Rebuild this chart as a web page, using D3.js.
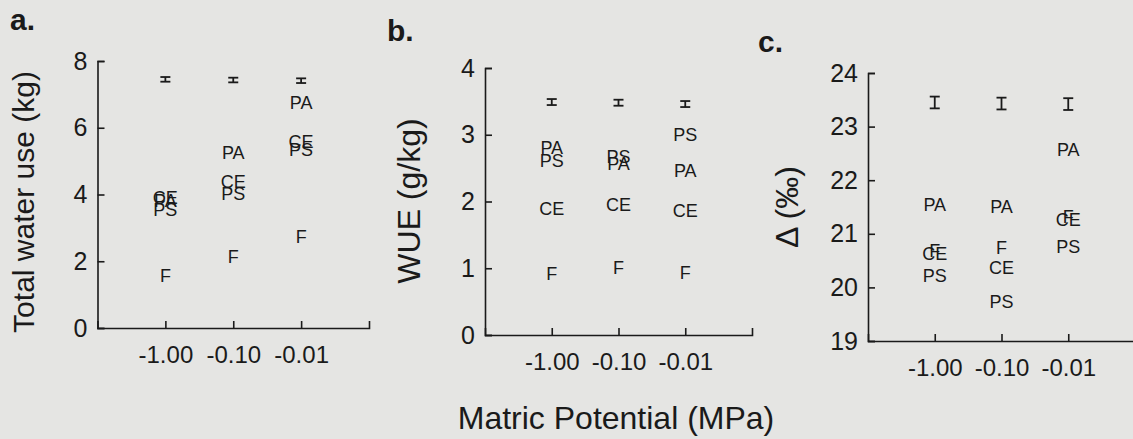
<!DOCTYPE html>
<html>
<head>
<meta charset="utf-8">
<script src="https://cdn.jsdelivr.net/npm/d3@7/dist/d3.min.js"></script>
<style>
  html, body { margin: 0; padding: 0; background: #e5e5e3; }
  svg { display: block; font-family: "Liberation Sans", Arial, sans-serif; }
</style>
</head>
<body>
<svg id="chart" width="1133" height="439"></svg>
<script>
// ---- data ----
const categories = ["-1.00", "-0.10", "-0.01"];   // matric potential (MPa)
const species = ["PA", "CE", "PS", "F"];

// panel a: total water use (kg)
const waterTicks = [0, 2, 4, 6, 8];
const waterPA = [3.82, 5.26, 6.76];
const waterCE = [3.91, 4.38, 5.60];
const waterPS = [3.54, 4.03, 5.36];
const waterF  = [1.56, 2.15, 2.74];
const waterErrMean = [7.45, 7.43, 7.41];
const waterErrHalf = [0.07, 0.07, 0.07];

// panel b: WUE (g/kg)
const wueTicks = [0, 1, 2, 3, 4];
const wuePA = [2.81, 2.57, 2.46];
const wueCE = [1.90, 1.96, 1.86];
const wuePS = [2.61, 2.68, 3.00];
const wueF  = [0.92, 1.01, 0.94];
const wueErrMean = [3.49, 3.48, 3.46];
const wueErrHalf = [0.045, 0.045, 0.045];

// panel c: carbon isotope discrimination (‰)
const deltaTicks = [19, 20, 21, 22, 23, 24];
const deltaPA = [21.54, 21.51, 22.58];
const deltaCE = [20.64, 20.37, 21.26];
const deltaPS = [20.23, 19.73, 20.76];
const deltaF  = [20.68, 20.74, 21.33];
const deltaErrMean = [23.45, 23.43, 23.42];
const deltaErrHalf = [0.11, 0.11, 0.11];

// ---- drawing ----
const svg = d3.select("#chart");
const ink = "#1a1a1a";

const panels = [
  { letter: "a.", title: "Total water use (kg)", ticks: waterTicks,
    series: { PA: waterPA, CE: waterCE, PS: waterPS, F: waterF },
    errMean: waterErrMean, errHalf: waterErrHalf,
    xr: [97.5, 369], yr: [328, 61], letterPos: [10, 30],
    titleX: 34, titleY: 202, titleSize: 30 },
  { letter: "b.", title: "WUE (g/kg)", ticks: wueTicks,
    series: { PA: wuePA, CE: wueCE, PS: wuePS, F: wueF },
    errMean: wueErrMean, errHalf: wueErrHalf,
    xr: [485, 752], yr: [335, 68], letterPos: [387, 41],
    titleX: 420, titleY: 201, titleSize: 32 },
  { letter: "c.", title: "\u0394 (\u2030)", ticks: deltaTicks,
    series: { PA: deltaPA, CE: deltaCE, PS: deltaPS, F: deltaF },
    errMean: deltaErrMean, errHalf: deltaErrHalf,
    xr: [868, 1135], yr: [341, 73], letterPos: [758, 52],
    titleX: 798, titleY: 207, titleSize: 32 }
];

panels.forEach(p => {
  const g = svg.append("g");
  const x = d3.scaleLinear().domain([0, categories.length + 1]).range(p.xr);
  const y = d3.scaleLinear().domain(d3.extent(p.ticks)).range(p.yr);

  // x axis (ticks inward)
  const xAxis = d3.axisBottom(x)
    .tickValues(categories.map((c, i) => i + 1))
    .tickFormat((d) => categories[d - 1])
    .tickSizeInner(-7).tickSizeOuter(-7).tickPadding(18);
  const gx = g.append("g").attr("transform", `translate(0,${p.yr[0]})`).call(xAxis);
  gx.selectAll("text").attr("font-size", 24).attr("fill", ink).attr("dy", "0.71em");

  // y axis (ticks inward)
  const yAxis = d3.axisLeft(y).tickValues(p.ticks)
    .tickSizeInner(-7).tickSizeOuter(-7).tickPadding(10).tickFormat(d3.format("d"));
  const gy = g.append("g").attr("transform", `translate(${p.xr[0]},0)`).call(yAxis);
  gy.selectAll("text").attr("font-size", 25).attr("fill", ink);

  g.selectAll(".domain, .tick line").attr("stroke", ink).attr("stroke-width", 1.6);

  // y-axis title
  g.append("text")
    .attr("transform", `translate(${p.titleX},${p.titleY}) rotate(-90)`)
    .attr("text-anchor", "middle")
    .attr("font-size", p.titleSize).attr("fill", ink)
    .text(p.title);

  // panel letter
  g.append("text").attr("x", p.letterPos[0]).attr("y", p.letterPos[1])
    .attr("font-size", 30).attr("font-weight", "bold").attr("fill", ink)
    .text(p.letter);

  // error bars
  const eb = g.append("g").attr("stroke", ink).attr("stroke-width", 1.8).attr("fill", "none");
  p.errMean.forEach((m, i) => {
    const cx = x(i + 1), top = y(m + p.errHalf[i]), bot = y(m - p.errHalf[i]);
    eb.append("line").attr("x1", cx).attr("x2", cx).attr("y1", top).attr("y2", bot);
    eb.append("line").attr("x1", cx - 5).attr("x2", cx + 5).attr("y1", top).attr("y2", top);
    eb.append("line").attr("x1", cx - 5).attr("x2", cx + 5).attr("y1", bot).attr("y2", bot);
  });

  // species labels as markers
  species.forEach(s => {
    g.append("g").selectAll("text").data(p.series[s]).join("text")
      .attr("x", (d, i) => x(i + 1))
      .attr("y", d => y(d))
      .attr("dy", "0.36em")
      .attr("text-anchor", "middle")
      .attr("font-size", 18).attr("fill", ink)
      .text(s);
  });
});

// shared x-axis title
svg.append("text")
  .attr("x", 616).attr("y", 429)
  .attr("text-anchor", "middle")
  .attr("font-size", 32).attr("fill", ink)
  .text("Matric Potential (MPa)");
</script>
</body>
</html>
